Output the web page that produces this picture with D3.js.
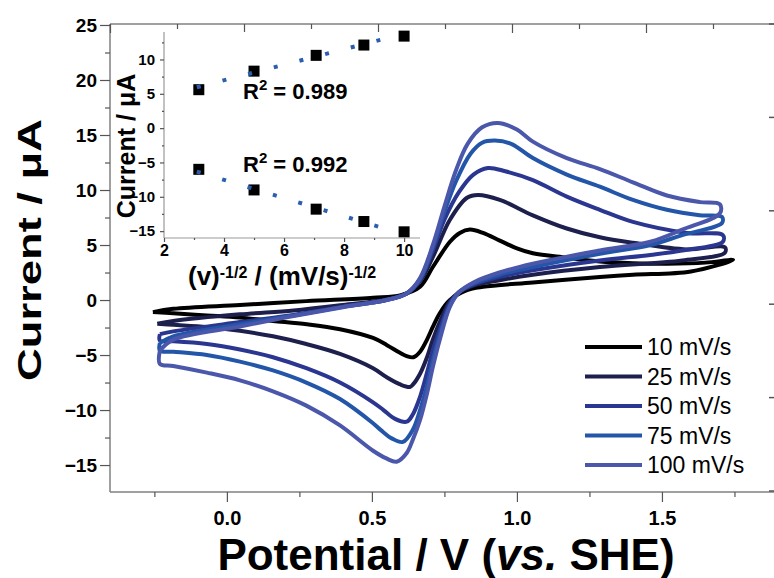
<!DOCTYPE html>
<html>
<head>
<meta charset="utf-8">
<script src="https://cdn.jsdelivr.net/npm/d3@7/dist/d3.min.js"></script>
<style>
  body { margin: 0; background: #fff; }
  svg { display: block; font-family: "Liberation Sans", Arial, sans-serif; }
</style>
</head>
<body>
<svg id="chart" width="774" height="578"></svg>
<script>
// main plot: cyclic voltammograms, [potential V, current uA]
const scanRates = ["10 mV/s", "25 mV/s", "50 mV/s", "75 mV/s", "100 mV/s"];
const potentialTicks = [0, 0.5, 1.0, 1.5];
const currentTicks = [-15, -10, -5, 0, 5, 10, 15, 20, 25];

const cv10 = [
  [-0.255, -1.1], [-0.185, -0.8], [0.045, -0.45], [0.274, -0.1], [0.504, 0.2], [0.6, 0.45],
  [0.666, 1.2], [0.71, 3.0], [0.769, 5.3], [0.803, 6.1], [0.838, 6.4], [0.883, 6.1],
  [0.941, 5.4], [1.0, 4.7], [1.055, 4.25], [1.172, 3.85], [1.286, 3.5], [1.4, 3.35],
  [1.517, 3.3], [1.65, 3.4], [1.745, 3.65],
  [1.6, 2.6], [1.4, 2.3], [1.286, 2.1], [1.055, 1.6], [0.883, 1.2], [0.828, 0.9],
  [0.769, 0.0], [0.734, -1.2], [0.71, -2.45], [0.69, -3.6], [0.666, -4.7], [0.643, -5.2],
  [0.62, -5.1], [0.597, -4.8], [0.552, -4.1], [0.504, -3.45], [0.39, -2.65], [0.276, -2.2],
  [0.159, -1.9], [0.045, -1.6], [-0.069, -1.4], [-0.185, -1.2], [-0.255, -1.1]
];
const cv25 = [
  [-0.24, -2.15], [-0.185, -1.9], [0.045, -1.3], [0.23, -0.95], [0.4, -0.45], [0.55, 0.05],
  [0.62, 0.6], [0.666, 1.7], [0.71, 3.9], [0.769, 7.3], [0.828, 9.3], [0.866, 9.55],
  [0.941, 9.1], [1.055, 7.7], [1.172, 6.5], [1.286, 5.7], [1.4, 5.2], [1.586, 4.6], [1.717, 4.8],
  [1.717, 4.3], [1.57, 3.6], [1.286, 3.0], [1.055, 2.3], [0.94, 1.8], [0.85, 1.3], [0.8, 0.7],
  [0.769, -0.1], [0.734, -2.0], [0.71, -3.6], [0.69, -5.2], [0.666, -6.7], [0.641, -7.7],
  [0.631, -7.9], [0.6, -7.7], [0.55, -7.0], [0.504, -6.2], [0.39, -4.9], [0.274, -4.0],
  [0.159, -3.3], [0.045, -2.8], [-0.069, -2.45], [-0.185, -2.25], [-0.24, -2.15]
];
const cv50 = [
  [-0.231, -3.1], [-0.185, -2.85], [0.045, -2.0], [0.23, -1.35], [0.4, -0.6], [0.55, 0.0],
  [0.62, 0.6], [0.666, 1.8], [0.71, 4.5], [0.75, 7.3], [0.8, 9.8], [0.85, 11.4], [0.9, 12.0],
  [0.96, 11.7], [1.055, 10.9], [1.172, 9.4], [1.286, 8.2], [1.4, 7.1], [1.586, 6.1], [1.71, 5.9],
  [1.71, 5.3], [1.57, 4.5], [1.46, 4.1], [1.286, 3.6], [1.055, 2.7], [0.94, 2.1], [0.85, 1.4],
  [0.8, 0.7], [0.769, -0.3], [0.734, -2.7], [0.71, -4.6], [0.69, -6.6], [0.666, -8.8],
  [0.641, -10.4], [0.62, -11.06], [0.58, -10.8], [0.54, -10.0], [0.504, -9.3], [0.39, -7.5],
  [0.274, -6.2], [0.159, -5.2], [0.045, -4.5], [-0.069, -4.0], [-0.185, -3.75], [-0.231, -3.7],
  [-0.231, -3.1]
];
const cv75 = [
  [-0.231, -3.9], [-0.185, -3.3], [0.045, -2.2], [0.23, -1.4], [0.4, -0.62], [0.55, 0.0],
  [0.62, 0.6], [0.666, 1.9], [0.71, 4.8], [0.75, 8.0], [0.79, 10.8], [0.84, 13.3], [0.88, 14.3],
  [0.924, 14.5], [0.98, 14.2], [1.055, 12.9], [1.172, 11.4], [1.286, 10.3], [1.4, 9.1],
  [1.517, 8.2], [1.63, 7.7], [1.707, 7.55],
  [1.707, 7.0], [1.57, 5.9], [1.46, 5.0], [1.286, 4.2], [1.055, 3.0], [0.94, 2.3], [0.85, 1.5],
  [0.8, 0.7], [0.769, -0.5], [0.734, -3.2], [0.71, -5.5], [0.69, -7.8], [0.666, -10.0],
  [0.641, -11.8], [0.607, -12.9], [0.57, -12.6], [0.53, -11.8], [0.504, -11.2], [0.39, -9.0],
  [0.274, -7.5], [0.159, -6.4], [0.045, -5.6], [-0.069, -5.0], [-0.185, -4.7], [-0.231, -4.6],
  [-0.231, -3.9]
];
const cv100 = [
  [-0.231, -4.6], [-0.185, -3.6], [0.045, -2.4], [0.23, -1.45], [0.4, -0.65], [0.55, 0.0],
  [0.62, 0.6], [0.666, 2.0], [0.71, 5.0], [0.75, 8.5], [0.79, 11.8], [0.83, 14.2], [0.88, 15.7],
  [0.934, 16.1], [1.0, 15.5], [1.055, 14.4], [1.172, 12.9], [1.286, 11.9], [1.4, 10.7],
  [1.517, 9.5], [1.631, 8.9], [1.7, 8.7],
  [1.7, 7.9], [1.57, 6.4], [1.46, 5.3], [1.286, 4.5], [1.055, 3.3], [0.94, 2.5], [0.85, 1.6],
  [0.8, 0.7], [0.769, -0.6], [0.734, -3.6], [0.71, -6.1], [0.69, -8.5], [0.666, -10.9],
  [0.641, -12.7], [0.62, -13.9], [0.585, -14.7], [0.55, -14.4], [0.504, -13.7], [0.39, -11.4],
  [0.274, -9.6], [0.159, -8.3], [0.045, -7.3], [-0.069, -6.6], [-0.185, -6.0], [-0.231, -5.8],
  [-0.231, -4.6]
];

// inset: peak current vs square root of scan rate
const sqrtRate = [3.16, 5, 7.07, 8.66, 10];
const anodicPeak = [5.6, 8.3, 10.6, 12.1, 13.4];
const cathodicPeak = [-6.0, -9.0, -11.8, -13.6, -15.1];
const anodicFit = [[3.16, 5.95], [9.67, 13.3]];
const cathodicFit = [[3.16, -6.33], [9.67, -14.96]];
const insetXTicks = [2, 4, 6, 8, 10];
const insetYTicks = [-15, -10, -5, 0, 5, 10];

const colors = ["#000000", "#1d1f4d", "#2a3690", "#2356a8", "#4b57ab"];

function styleAxis(g, size) {
  g.select(".domain").remove();
  g.selectAll(".tick line").attr("stroke", "#555").attr("stroke-width", 1.2);
  g.selectAll(".tick text")
    .attr("fill", "#000")
    .style("font-size", size + "px")
    .style("font-weight", "bold");
}

function buildChart() {
  const svg = d3.select("#chart");

  const x = d3.scaleLinear().domain([-0.403, 1.876]).range([110, 771]);
  const y = d3.scaleLinear().domain([-17.45, 25.09]).range([492, 24]);
  const topScale = d3.scaleLinear().domain([0, 10]).range([110, 780]);
  const rightScale = d3.scaleLinear().domain([0, 5]).range([491, 24]);

  // frame
  const frame = svg.append("g").attr("stroke", "#808080").attr("stroke-width", 1.5);
  frame.append("line").attr("x1", 110).attr("x2", 110).attr("y1", 24).attr("y2", 492);
  frame.append("line").attr("x1", 110).attr("x2", 774).attr("y1", 492).attr("y2", 492);
  frame.append("line").attr("x1", 110).attr("x2", 774).attr("y1", 24).attr("y2", 24);

  svg.append("g")
    .attr("transform", "translate(110,0)")
    .call(d3.axisLeft(y).tickValues(currentTicks).tickSize(10).tickPadding(3))
    .call((g) => styleAxis(g, 19));
  svg.append("g")
    .attr("transform", "translate(110,0)")
    .call(d3.axisLeft(y).tickValues(d3.range(-12.5, 25, 5)).tickSize(5).tickFormat(""))
    .call((g) => styleAxis(g, 19));

  svg.append("g")
    .attr("transform", "translate(0,492)")
    .call(d3.axisBottom(x).tickValues(potentialTicks).tickFormat(d3.format(".1f")).tickSize(10).tickPadding(9))
    .call((g) => styleAxis(g, 20));
  svg.append("g")
    .attr("transform", "translate(0,492)")
    .call(d3.axisBottom(x).tickValues([-0.25, 0.25, 0.75, 1.25, 1.75]).tickSize(5).tickFormat(""))
    .call((g) => styleAxis(g, 20));

  svg.append("g")
    .attr("transform", "translate(0,24)")
    .call(d3.axisTop(topScale).tickValues([0, 2, 4, 6, 8]).tickSize(-9).tickFormat(""))
    .call((g) => styleAxis(g, 10));
  svg.append("g")
    .attr("transform", "translate(0,24)")
    .call(d3.axisTop(topScale).tickValues([1, 3, 5, 7, 9]).tickSize(-5).tickFormat(""))
    .call((g) => styleAxis(g, 10));

  svg.append("g")
    .selectAll("line")
    .data(d3.range(0, 6))
    .join("line")
    .attr("x1", 769).attr("x2", 774)
    .attr("y1", (d) => rightScale(d)).attr("y2", (d) => rightScale(d))
    .attr("stroke", "#555").attr("stroke-width", 1.5);

  // voltammograms
  const line = d3.line()
    .x((d) => x(d[0]))
    .y((d) => y(d[1]))
    .curve(d3.curveCatmullRom.alpha(0.5));

  svg.append("g")
    .selectAll("path")
    .data([cv10, cv25, cv50, cv75, cv100])
    .join("path")
    .attr("d", line)
    .attr("fill", "none")
    .attr("stroke", (d, i) => colors[i])
    .attr("stroke-width", 4)
    .attr("stroke-linejoin", "round");

  // legend
  const legend = svg.append("g")
    .selectAll("g")
    .data(scanRates)
    .join("g")
    .attr("transform", (d, i) => `translate(585,${347 + i * 29.5})`);
  legend.append("line")
    .attr("x1", 0).attr("x2", 57)
    .attr("stroke", (d, i) => colors[i])
    .attr("stroke-width", 4);
  legend.append("text")
    .attr("x", 62).attr("y", 8)
    .style("font-size", "23px")
    .text((d) => d);

  // axis titles
  svg.append("text")
    .attr("transform", "translate(41,250) rotate(-90)")
    .attr("text-anchor", "middle")
    .attr("textLength", 262)
    .attr("lengthAdjust", "spacingAndGlyphs")
    .style("font-size", "34px")
    .style("font-weight", "bold")
    .text("Current / μA");

  const xTitle = svg.append("text")
    .attr("x", 446).attr("y", 570)
    .attr("text-anchor", "middle")
    .style("font-size", "44px")
    .style("font-weight", "bold");
  xTitle.append("tspan").text("Potential / V (");
  xTitle.append("tspan").style("font-style", "italic").text("vs.");
  xTitle.append("tspan").text(" SHE)");

  buildInset(svg);
}

function buildInset(svg) {
  const ix = d3.scaleLinear().domain([2, 10.53]).range([164, 420]);
  const iy = d3.scaleLinear().domain([-16, 14]).range([238, 32]);
  const inset = svg.append("g");

  inset.append("rect")
    .attr("x", 164).attr("y", 32).attr("width", 256).attr("height", 206)
    .attr("fill", "#fff");
  inset.append("line").attr("x1", 164).attr("x2", 164).attr("y1", 32).attr("y2", 238)
    .attr("stroke", "#999").attr("stroke-width", 1.2);
  inset.append("line").attr("x1", 164).attr("x2", 420).attr("y1", 238).attr("y2", 238)
    .attr("stroke", "#999").attr("stroke-width", 1.2);

  inset.append("g")
    .attr("transform", "translate(164,0)")
    .call(d3.axisLeft(iy).tickValues(insetYTicks).tickSize(4).tickPadding(5))
    .call((g) => styleAxis(g, 15));
  inset.append("g")
    .attr("transform", "translate(164,0)")
    .call(d3.axisLeft(iy).tickValues(d3.range(-12.5, 14, 5)).tickSize(2).tickFormat(""))
    .call((g) => styleAxis(g, 15));
  inset.append("g")
    .attr("transform", "translate(0,238)")
    .call(d3.axisBottom(ix).tickValues(insetXTicks).tickSize(4).tickPadding(3))
    .call((g) => styleAxis(g, 16));
  inset.append("g")
    .attr("transform", "translate(0,238)")
    .call(d3.axisBottom(ix).tickValues([3, 5, 7, 9]).tickSize(2).tickFormat(""))
    .call((g) => styleAxis(g, 16));

  const peaks = sqrtRate.map((r, i) => [r, anodicPeak[i]])
    .concat(sqrtRate.map((r, i) => [r, cathodicPeak[i]]));
  inset.append("g")
    .selectAll("rect")
    .data(peaks)
    .join("rect")
    .attr("x", (d) => ix(d[0]) - 5.5)
    .attr("y", (d) => iy(d[1]) - 5.5)
    .attr("width", 11).attr("height", 11)
    .attr("fill", "#000");

  const fitLine = d3.line().x((d) => ix(d[0])).y((d) => iy(d[1]));
  inset.append("g")
    .selectAll("path")
    .data([anodicFit, cathodicFit])
    .join("path")
    .attr("d", fitLine)
    .attr("stroke", "#2b5fad")
    .attr("stroke-width", 4)
    .attr("stroke-dasharray", "4 22.5")
    .attr("transform", "translate(-2,0)")
    .attr("fill", "none");

  inset.append("text")
    .attr("transform", "translate(135,146) rotate(-90)")
    .attr("text-anchor", "middle")
    .style("font-size", "25px")
    .style("font-weight", "bold")
    .text("Current / μA");

  const ixTitle = inset.append("text")
    .attr("x", 188).attr("y", 285)
    .style("font-size", "26px")
    .style("font-weight", "bold");
  ixTitle.append("tspan").text("(v)");
  ixTitle.append("tspan").attr("dy", -7).style("font-size", "16px").text("-1/2");
  ixTitle.append("tspan").attr("dy", 7).text(" / (mV/s)");
  ixTitle.append("tspan").attr("dy", -7).style("font-size", "16px").text("-1/2");

  const rLabels = [["0.989", 99], ["0.992", 172]];
  rLabels.forEach(([value, yPos]) => {
    const t = inset.append("text")
      .attr("x", 243).attr("y", yPos)
      .style("font-size", "22px")
      .style("font-weight", "bold");
    t.append("tspan").text("R");
    t.append("tspan").attr("dy", -9).style("font-size", "15px").text("2");
    t.append("tspan").attr("dy", 9).text(" = " + value);
  });
}

addEventListener("DOMContentLoaded", buildChart);
</script>
</body>
</html>
